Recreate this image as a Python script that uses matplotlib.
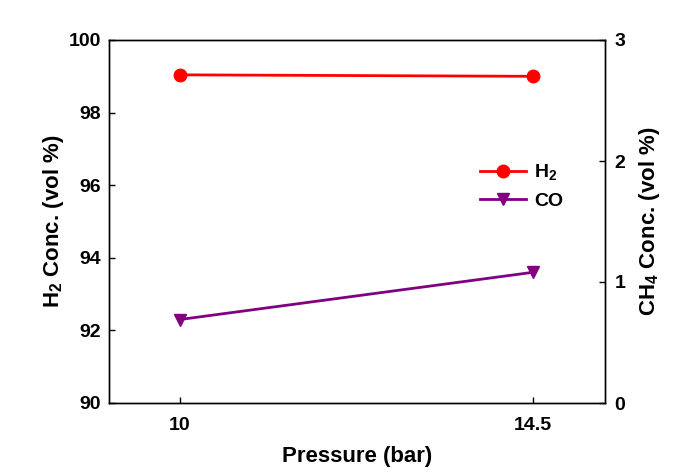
import matplotlib
matplotlib.use("Agg")
import matplotlib.pyplot as plt

plt.rcParams['font.family'] = ['Liberation Sans', 'DejaVu Sans']
plt.rcParams['font.weight'] = 'bold'
plt.rcParams['mathtext.fontset'] = 'custom'
plt.rcParams['mathtext.rm'] = 'Liberation Sans:bold'
plt.rcParams['mathtext.default'] = 'rm'

# data
pressure = [10, 14.5]
h2_conc = [99.04, 99.0]
co_conc = [0.69, 1.08]

fig = plt.figure(figsize=(6.81, 4.76), dpi=100)
ax = fig.add_axes([109 / 681, 1 - 403 / 476, 496 / 681, 363 / 476])
ax2 = ax.twinx()

l1, = ax.plot(pressure, h2_conc, color='#ff0000', lw=2, marker='o', ms=9, label='H$_2$')
l2, = ax2.plot(pressure, co_conc, color='#800080', lw=2, marker='v', ms=9, label='CO')

ax.set_xlim(9.095, 15.42)
ax.set_ylim(90, 100)
ax2.set_ylim(0, 3)
ax.set_xticks(pressure)
ax.set_xticklabels(['10', '14.5'])
ax.set_yticks([90, 92, 94, 96, 98, 100])
ax2.set_yticks([0, 1, 2, 3])

for a in (ax, ax2):
    a.tick_params(direction='in', length=4, width=1, labelsize=14, pad=7)
    for s in a.spines.values():
        s.set_linewidth(1)
ax.tick_params(axis='y', pad=6)
ax.tick_params(axis='x', pad=10)

ax.set_xlabel('Pressure (bar)', fontsize=16, fontweight='bold', labelpad=9)
ax.set_ylabel('H$_2$ Conc. (vol %)', fontsize=16, fontweight='bold', labelpad=2)
ax2.set_ylabel('CH$_4$ Conc. (vol %)', fontsize=16, fontweight='bold', labelpad=8)

fig.legend(handles=[l1, l2], loc='center left', bbox_to_anchor=(462 / 681, 1 - 186 / 476),
           frameon=False, fontsize=14, handlelength=2.4, handletextpad=0.4, labelspacing=0.5)

fig.savefig('out.png', dpi=100)
